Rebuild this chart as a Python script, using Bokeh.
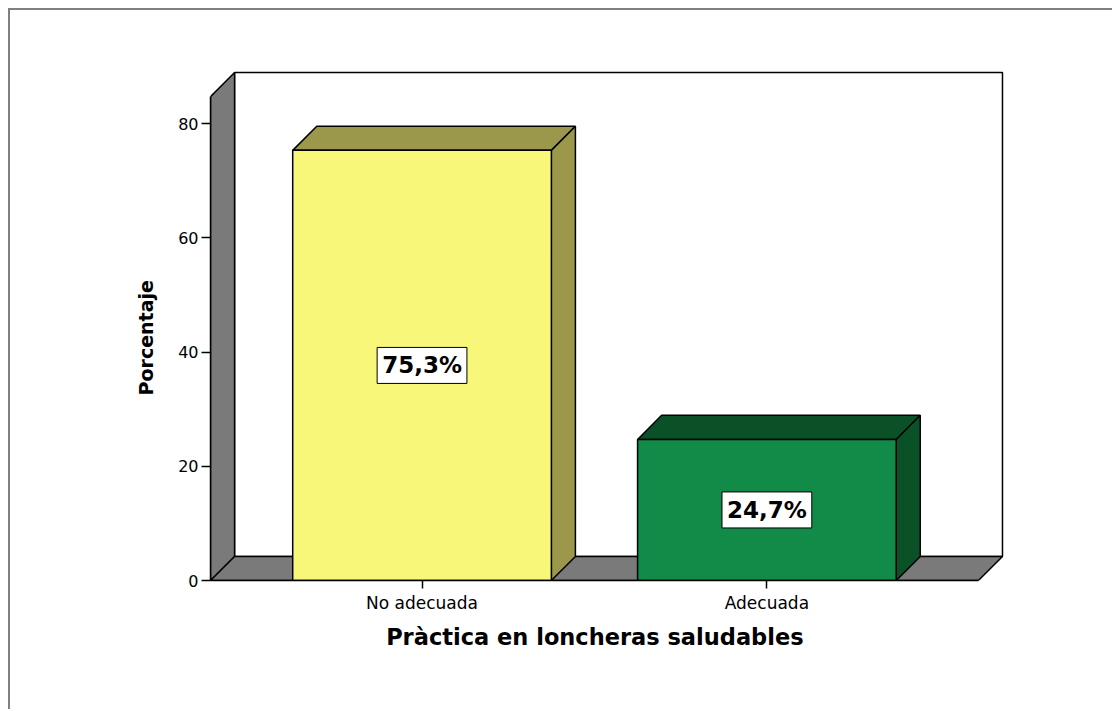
from bokeh.plotting import figure
from bokeh.models import (Range1d, FixedTicker, Label)
from bokeh.embed import file_html
from bokeh.resources import INLINE

# ---- data ----
categories = ["No adecuada", "Adecuada"]
percentages = [75.3, 24.7]
y_ticks = [0, 20, 40, 60, 80]
x_title = "Pràctica en loncheras saludables"
y_title = "Porcentaje"

# ---- geometry / style ----
OFF = 12                      # page frame offset (margin + border)
W, H = 1114 - OFF, 711 - OFF
FR_L, FR_R, FR_T, FR_B = 212 - OFF, 1010 - OFF, 70 - OFF, 580 - OFF
PX_X = 344.0      # pixels per category step
PX_Y = 5.69       # pixels per percent
XL = 1 - 211 / PX_X          # left edge of walls (category units)
XR = 2 + 211 / PX_X          # right edge of floor
DX = 24 / PX_X               # depth offset (x)
DY = 24 / PX_Y               # depth offset (y)
TOP = 84.7                   # height of the walls at the front
BW = 0.75                    # bar width
FONT = "DejaVu Sans"
NB = "\u00a0"

front_colors = ["#F9F77A", "#128B48"]
side_colors = ["#9B984B", "#0B5127"]
wall_color = "#7A7A7A"

p = figure(width=W, height=H, output_backend="svg", toolbar_location=None,
           x_range=Range1d(XL, XL + (FR_R - FR_L) / PX_X),
           y_range=Range1d(0, (FR_B - FR_T) / PX_Y),
           min_border_left=FR_L, min_border_right=W - FR_R,
           min_border_top=FR_T, min_border_bottom=H - FR_B)
p.outline_line_color = None
p.grid.visible = False
p.background_fill_color = "white"
p.border_fill_color = "white"
p.margin = (8, 0, 0, 8)
p.styles = {"border-top": "2px solid #808080", "border-left": "2px solid #808080",
            "border-right": "0px none", "border-bottom": "0px none",
            "box-sizing": "content-box", "overflow": "hidden"}

# back wall
p.patch([XL + DX, XR + DX, XR + DX, XL + DX], [DY, DY, TOP + DY, TOP + DY],
        fill_color="white", line_color="black", line_width=1.5)
# left wall
p.patch([XL, XL, XL + DX, XL + DX], [0, TOP, TOP + DY, DY],
        fill_color=wall_color, line_color="black", line_width=1.5)
# floor
p.patch([XL, XR, XR + DX, XL + DX], [0, 0, DY, DY],
        fill_color=wall_color, line_color="black", line_width=1.5)

# bars
xs = [i + 1 for i in range(len(categories))]
for c, v, fc, sc in zip(xs, percentages, front_colors, side_colors):
    l, r = c - BW / 2, c + BW / 2
    p.patch([l, r, r + DX, l + DX], [v, v, v + DY, v + DY],
            fill_color=sc, line_color="black", line_width=1.5)
    p.patch([r, r, r + DX, r + DX], [0, v, v + DY, DY],
            fill_color=sc, line_color="black", line_width=1.5)
    p.patch([l, r, r, l], [0, 0, v, v],
            fill_color=fc, line_color="black", line_width=1.5)
    p.add_layout(Label(x=c, y=v / 2, text=f"{v:.1f}".replace(".", ",") + "%",
                       text_align="center", text_baseline="middle",
                       text_font=FONT, text_font_size="23px", text_font_style="bold",
                       text_color="black",
                       background_fill_color="white", border_line_color="black",
                       border_line_width=1, padding=5))

# axes
ya = p.yaxis[0]
ya.ticker = FixedTicker(ticks=y_ticks)
ya.bounds = (0, TOP)
ya.minor_tick_line_color = None
ya.major_tick_in = 0
ya.major_tick_out = 9
ya.major_tick_line_width = 1.5
ya.axis_line_width = 1.5
ya.major_label_standoff = 3
ya.major_label_text_font = FONT
ya.major_label_text_font_size = "16px"
ya.major_label_text_color = "black"
ya.axis_label = y_title + NB * 4
ya.axis_label_text_font = FONT
ya.axis_label_text_font_size = "19px"
ya.axis_label_text_font_style = "bold"
ya.axis_label_text_color = "black"
ya.axis_label_standoff = 18

xa = p.xaxis[0]
xa.ticker = FixedTicker(ticks=xs)
xa.major_label_overrides = {x: c for x, c in zip(xs, categories)}
xa.bounds = (XL, XR)
xa.minor_tick_line_color = None
xa.major_tick_in = 0
xa.major_tick_out = 8
xa.major_tick_line_width = 1.5
xa.axis_line_width = 1.5
xa.major_label_standoff = 4
xa.major_label_text_font = FONT
xa.major_label_text_font_size = "17px"
xa.major_label_text_color = "black"
xa.axis_label = x_title + NB * 4
xa.axis_label_text_font = FONT
xa.axis_label_text_font_size = "22.5px"
xa.axis_label_text_font_style = "bold"
xa.axis_label_text_color = "black"
xa.axis_label_standoff = 8

open("out.html", "w").write(file_html(p, INLINE))
